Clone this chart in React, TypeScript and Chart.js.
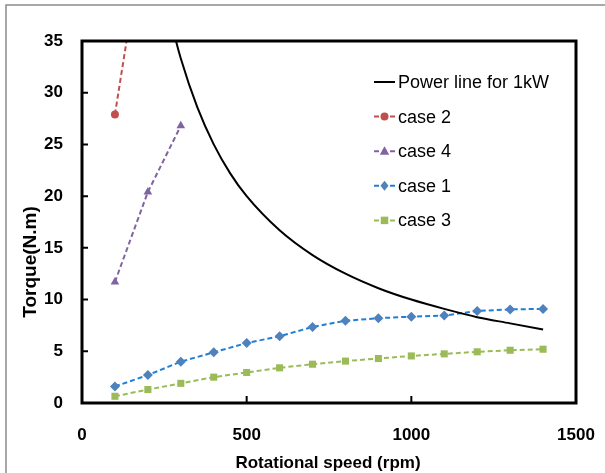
import React, { useEffect, useRef } from "react";
import { Chart, registerables } from "chart.js";
Chart.register(...registerables);

const xTicks = [0, 500, 1000, 1500];
const yTicks = [0, 5, 10, 15, 20, 25, 30, 35];

const powerSpeeds = [250, 280, 300, 350, 400, 450, 500, 600, 700, 800, 900, 1000, 1100, 1200, 1300, 1400];
const powerTorque = [40, 35.7, 33.3, 28.6, 25, 22.2, 20, 16.7, 14.3, 12.5, 11.1, 10, 9.1, 8.3, 7.7, 7.1];

const case2Speeds = [100, 200];
const case2Torque = [27.9, 48];

const case4Speeds = [100, 200, 300];
const case4Torque = [11.7, 20.4, 26.8];

const caseSpeeds = [100, 200, 300, 400, 500, 600, 700, 800, 900, 1000, 1100, 1200, 1300, 1400];
const case1Torque = [1.6, 2.7, 4.0, 4.9, 5.8, 6.45, 7.35, 7.95, 8.2, 8.35, 8.45, 8.9, 9.05, 9.1];
const case3Torque = [0.65, 1.3, 1.9, 2.5, 2.95, 3.4, 3.75, 4.05, 4.3, 4.55, 4.75, 4.95, 5.1, 5.2];

const labels = ["Power line for 1kW", "case 2", "case 4", "case 1", "case 3"];

const SANS = "'Liberation Sans', Arial, sans-serif";

const zip = (xs: number[], ys: number[]) => xs.map((x, i) => ({ x, y: ys[i] }));

function drawMarker(ctx: CanvasRenderingContext2D, style: string, x: number, y: number, r: number, color: string) {
  ctx.save();
  ctx.fillStyle = color;
  ctx.beginPath();
  if (style === "circle") {
    ctx.arc(x, y, r, 0, Math.PI * 2);
  } else if (style === "triangle") {
    ctx.moveTo(x, y - r);
    ctx.lineTo(x + r * 0.95, y + r * 0.7);
    ctx.lineTo(x - r * 0.95, y + r * 0.7);
    ctx.closePath();
  } else if (style === "rectRot") {
    ctx.moveTo(x, y - r);
    ctx.lineTo(x + r * 0.8, y);
    ctx.lineTo(x, y + r);
    ctx.lineTo(x - r * 0.8, y);
    ctx.closePath();
  } else if (style === "rect") {
    const s = r * 0.75;
    ctx.rect(x - s, y - s, 2 * s, 2 * s);
  }
  ctx.fill();
  ctx.restore();
}

const decorPlugin = {
  id: "decor",
  afterDatasetsDraw(chart: any) {
    const { ctx, chartArea, scales } = chart;
    const { left, right, top, bottom } = chartArea;
    ctx.save();
    // outer frame (gray, left + top)
    ctx.strokeStyle = "#8c8c8c";
    ctx.lineWidth = 1.5;
    ctx.beginPath();
    ctx.moveTo(6, 473);
    ctx.lineTo(6, 5);
    ctx.lineTo(605, 5);
    ctx.stroke();

    // plot frame
    ctx.strokeStyle = "#000";
    ctx.lineWidth = 3;
    ctx.strokeRect(left, top, right - left, bottom - top);

    // inward ticks
    ctx.lineWidth = 2;
    ctx.beginPath();
    xTicks.forEach((v) => {
      const px = scales.x.getPixelForValue(v);
      ctx.moveTo(px, bottom);
      ctx.lineTo(px, bottom - 7);
    });
    yTicks.forEach((v) => {
      const py = scales.y.getPixelForValue(v);
      ctx.moveTo(left, py);
      ctx.lineTo(left + 6, py);
    });
    ctx.stroke();

    // axis titles
    ctx.fillStyle = "#000";
    ctx.textAlign = "center";
    ctx.textBaseline = "middle";
    ctx.font = "bold 17px " + SANS;
    ctx.fillText("Rotational speed (rpm)", 328, 463);
    ctx.save();
    ctx.translate(31, 262);
    ctx.rotate(-Math.PI / 2);
    ctx.font = "bold 19px " + SANS;
    ctx.fillText("Torque(N.m)", 0, 0);
    ctx.restore();

    // legend
    const lx0 = 374;
    const lx1 = 395;
    const ly0 = 82;
    const step = 34.6;
    chart.data.datasets.forEach((ds: any, i: number) => {
      const y = ly0 + i * step;
      ctx.save();
      ctx.strokeStyle = ds.borderColor;
      ctx.lineWidth = 2;
      ctx.setLineDash(ds.borderDash || []);
      ctx.beginPath();
      ctx.moveTo(lx0, y);
      ctx.lineTo(lx1, y);
      ctx.stroke();
      ctx.restore();
      if (ds.pointStyle && ds.pointRadius > 0) {
        drawMarker(ctx, ds.pointStyle, (lx0 + lx1) / 2, y, ds.pointRadius, ds.pointBackgroundColor);
      }
      ctx.fillStyle = "#000";
      ctx.textAlign = "left";
      ctx.textBaseline = "middle";
      ctx.font = "18px " + SANS;
      ctx.fillText(labels[i], 398, y + 1);
    });
    ctx.restore();
  },
};

export default function App() {
  const ref = useRef<HTMLCanvasElement>(null);
  useEffect(() => {
    if (!ref.current) return;
    const dash = [5, 3];
    const chart = new Chart(ref.current, {
      type: "line",
      data: {
        datasets: [
          {
            label: labels[0],
            data: zip(powerSpeeds, powerTorque),
            borderColor: "#000000",
            borderWidth: 2,
            pointRadius: 0,
            cubicInterpolationMode: "monotone",
          },
          {
            label: labels[1],
            data: zip(case2Speeds, case2Torque),
            borderColor: "#C0504D",
            backgroundColor: "#C0504D",
            pointBackgroundColor: "#C0504D",
            pointBorderWidth: 0,
            borderWidth: 2,
            borderDash: dash,
            pointStyle: "circle",
            pointRadius: 4,
          },
          {
            label: labels[2],
            data: zip(case4Speeds, case4Torque),
            borderColor: "#8064A2",
            backgroundColor: "#8064A2",
            pointBackgroundColor: "#8064A2",
            pointBorderWidth: 0,
            borderWidth: 2,
            borderDash: dash,
            pointStyle: "triangle",
            pointRadius: 5,
          },
          {
            label: labels[3],
            data: zip(caseSpeeds, case1Torque),
            borderColor: "#1F7FD6",
            backgroundColor: "#4F81BD",
            pointBackgroundColor: "#4F81BD",
            pointBorderWidth: 0,
            borderWidth: 2,
            borderDash: dash,
            pointStyle: "rectRot",
            pointRadius: 5,
          },
          {
            label: labels[4],
            data: zip(caseSpeeds, case3Torque),
            borderColor: "#9BBB59",
            backgroundColor: "#9BBB59",
            pointBackgroundColor: "#9BBB59",
            pointBorderWidth: 0,
            borderWidth: 2,
            borderDash: dash,
            pointStyle: "rect",
            pointRadius: 5,
          },
        ],
      },
      options: {
        responsive: false,
        animation: false,
        layout: { padding: { left: 0, right: 29, top: 41, bottom: 0 } },
        plugins: { legend: { display: false }, tooltip: { enabled: false } },
        scales: {
          x: {
            type: "linear",
            min: 0,
            max: 1500,
            afterFit: (s: any) => {
              s.height = 70;
              s.paddingLeft = 0;
              s.paddingRight = 0;
            },
            afterBuildTicks: (s: any) => {
              s.ticks = xTicks.map((v) => ({ value: v }));
            },
            grid: { display: false, drawTicks: false },
            border: { display: false },
            ticks: {
              padding: 22,
              color: "#000",
              callback: (v: any) => String(v),
              font: { family: SANS, size: 17, weight: "bold" },
            },
          },
          y: {
            type: "linear",
            min: 0,
            max: 35,
            afterFit: (s: any) => {
              s.width = 82;
              s.paddingTop = 0;
              s.paddingBottom = 0;
            },
            afterBuildTicks: (s: any) => {
              s.ticks = yTicks.map((v) => ({ value: v }));
            },
            grid: { display: false, drawTicks: false },
            border: { display: false },
            ticks: {
              padding: 19,
              color: "#000",
              callback: (v: any) => String(v),
              font: { family: SANS, size: 17, weight: "bold" },
            },
          },
        },
      },
      plugins: [decorPlugin],
    } as any);
    return () => chart.destroy();
  }, []);
  return (
    <div style={{ position: "absolute", left: 0, top: 0, width: 605, height: 473, background: "#fff" }}>
      <canvas ref={ref} width={605} height={473} style={{ width: 605, height: 473, display: "block" }} />
    </div>
  );
}
